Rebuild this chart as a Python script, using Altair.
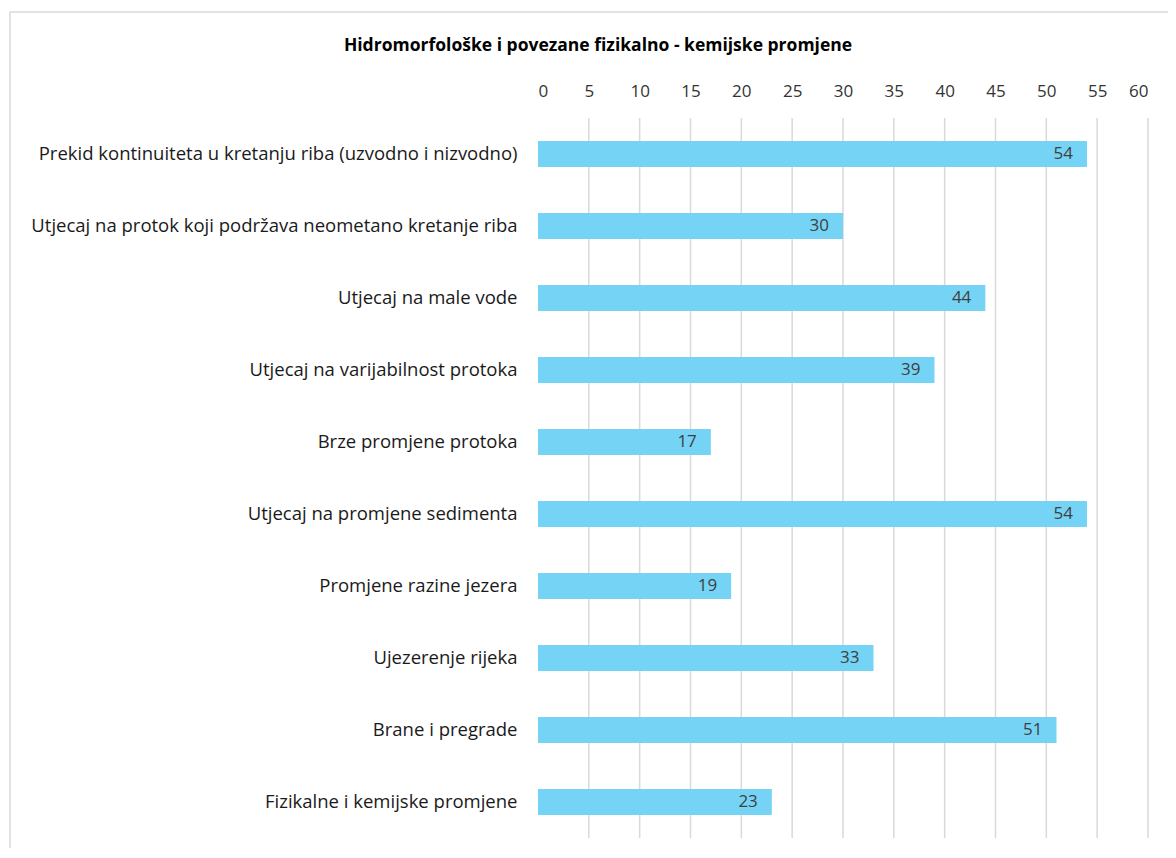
import altair as alt
import pandas as pd

categories = [
    "Prekid kontinuiteta u kretanju riba (uzvodno i nizvodno)",
    "Utjecaj na protok koji podržava neometano kretanje riba",
    "Utjecaj na male vode",
    "Utjecaj na varijabilnost protoka",
    "Brze promjene protoka",
    "Utjecaj na promjene sedimenta",
    "Promjene razine jezera",
    "Ujezerenje rijeka",
    "Brane i pregrade",
    "Fizikalne i kemijske promjene",
]
values = [54, 30, 44, 39, 17, 54, 19, 33, 51, 23]
grid_values = [5, 10, 15, 20, 25, 30, 35, 40, 45, 50, 55, 60]
title_text = "Hidromorfološke i povezane fizikalno - kemijske promjene"

FONT = "Open Sans"

df = pd.DataFrame({"cat": categories, "val": values})
gdf = pd.DataFrame({"g": grid_values})

xscale = alt.Scale(domain=[0, 60], nice=False)
yscale = alt.Scale(domain=categories, paddingInner=0.64, paddingOuter=0.32)

frame = alt.Chart(pd.DataFrame({"a": [0]})).mark_rect(
    fill=None, stroke="#D9D9D9", strokeWidth=1.5
).encode(
    x=alt.value(-528), x2=alt.value(632), y=alt.value(-106), y2=alt.value(760)
)

title = alt.Chart(pd.DataFrame({"t": [title_text]})).mark_text(
    font=FONT, fontSize=17.5, fontWeight="bold", color="#000000",
    align="center", baseline="middle",
).encode(x=alt.value(60), y=alt.value(-72), text="t:N")

grid = alt.Chart(gdf).mark_rule(color="#D9D9D9", strokeWidth=1.5).encode(
    x=alt.X("g:Q", scale=xscale)
)

bars = alt.Chart(df).mark_bar(color="#75D4F5").encode(
    x=alt.X(
        "val:Q",
        scale=xscale,
        axis=alt.Axis(
            orient="top", values=list(range(0, 61, 5)), grid=False, ticks=False,
            domain=False, labelPadding=18, title=None, labelFontSize=17,
            labelFont=FONT, labelColor="#333333",
        ),
    ),
    y=alt.Y(
        "cat:N", scale=yscale, sort=categories,
        axis=alt.Axis(
            ticks=False, domain=False, labelPadding=21, title=None,
            labelFontSize=18.5, labelFont=FONT, labelColor="#1a1a1a", labelLimit=600,
        ),
    ),
)

labels = alt.Chart(df).mark_text(
    align="right", dx=-14, font=FONT, fontSize=17, color="#404040"
).encode(
    x=alt.X("val:Q", scale=xscale),
    y=alt.Y("cat:N", scale=yscale, sort=categories),
    text="val:Q",
)

chart = alt.layer(frame, title, grid, bars, labels).properties(
    width=610,
    height=720,
    autosize=alt.AutoSizeParams(type="none"),
    padding={"left": 530, "top": 110, "right": 20, "bottom": 10},
).configure_view(stroke=None)

chart.save("out.html", embed_options={"renderer": "svg", "actions": False})
